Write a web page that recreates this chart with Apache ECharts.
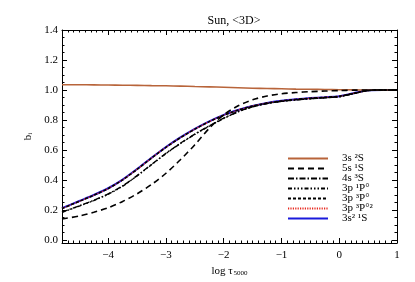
<!DOCTYPE html>
<html><head><meta charset="utf-8">
<script src="https://cdn.jsdelivr.net/npm/echarts@6/dist/echarts.min.js"></script>
<style>html,body{margin:0;padding:0;background:#fff}#c{width:415px;height:282px}</style>
</head><body><div id="c"></div>
<script>
// log tau_5000 sample points
var logTau = [-4.8,-4.5,-4.25,-4,-3.75,-3.5,-3.25,-3,-2.75,-2.5,-2.25,-2,-1.75,-1.5,-1.25,-1,-0.75,-0.5,-0.25,0,0.25,0.5,0.75,1];
// departure coefficients b_i
var b3s2S   = [1.035,1.035,1.034,1.033,1.032,1.031,1.029,1.028,1.026,1.023,1.021,1.018,1.015,1.012,1.010,1.008,1.006,1.005,1.003,1.002,1.001,1.0,1.0,1.0];
var b5s1S   = [0.14,0.16,0.185,0.215,0.257,0.308,0.37,0.445,0.535,0.635,0.745,0.835,0.895,0.935,0.96,0.975,0.983,0.989,0.993,0.996,0.999,1.0,1.0,1.0];
var b4s3S   = [0.186,0.228,0.265,0.307,0.361,0.429,0.504,0.578,0.645,0.706,0.761,0.812,0.856,0.888,0.91,0.924,0.934,0.942,0.948,0.955,0.976,0.997,1.0,1.0];
var b3p1P   = [0.184,0.226,0.263,0.305,0.359,0.427,0.502,0.576,0.643,0.704,0.759,0.810,0.855,0.888,0.91,0.924,0.934,0.942,0.948,0.955,0.976,0.997,1.0,1.0];
var b3p3P   = [0.21,0.258,0.298,0.343,0.401,0.471,0.546,0.618,0.682,0.739,0.789,0.832,0.866,0.893,0.913,0.927,0.937,0.945,0.951,0.958,0.978,0.997,1.0,1.0];
var b3p3P2  = [0.21,0.258,0.298,0.343,0.401,0.471,0.546,0.618,0.682,0.739,0.789,0.832,0.866,0.893,0.913,0.927,0.937,0.945,0.951,0.958,0.978,0.997,1.0,1.0];
var b3s21S  = [0.212,0.26,0.30,0.345,0.403,0.473,0.548,0.62,0.684,0.741,0.791,0.834,0.867,0.894,0.914,0.928,0.938,0.946,0.952,0.959,0.979,0.998,1.0,1.0];
var names = ['3s \u00b2S','5s \u00b9S','4s \u00b3S','3p \u00b9P\u00b0','3p \u00b3P\u00b0','3p \u00b3P\u00b0\u00b2','3s\u00b2 \u00b9S'];
var titleText = 'Sun, <3D>';

function pairs(ys){ return logTau.map(function(x,i){ return [x, ys[i]]; }); }
var F = 'Liberation Serif, Times New Roman, serif';
var chart = echarts.init(document.getElementById('c'), null, {renderer:'canvas'});

function axisCommon(extra){
  var a = {
    axisLine:{show:true, onZero:false, lineStyle:{color:'#000', width:1}},
    axisTick:{show:true, inside:true, length:5, lineStyle:{color:'#000', width:1}},
    splitLine:{show:false}
  };
  for (var k in extra) a[k] = extra[k];
  return a;
}
var xLab = {fontFamily:F, fontSize:11, color:'#000', margin:7, showMinLabel:false,
  formatter:function(v){ return String(v).replace('-', '\u2212'); }};
var yLab = {fontFamily:F, fontSize:11, color:'#000', margin:4, showMinLabel:false,
  formatter:function(v){ return v.toFixed(1); }};

function ser(name, data, color, type, width, z){
  return {name:name, type:'line', data:pairs(data), smooth:0.25, symbol:'none', showSymbol:false,
    z:z, lineStyle:{color:color, type:type, width:width}, itemStyle:{color:color}};
}

chart.setOption({
  animation:false,
  title:{text:titleText, left:229, top:10, textAlign:'center',
    textStyle:{fontFamily:F, fontSize:12, fontWeight:'normal', color:'#000'}},
  grid:{left:62, right:18, top:30, bottom:39, containLabel:false},
  xAxis:[
    axisCommon({type:'value', position:'bottom', min:-4.8, max:1, splitNumber:5,
      minorTick:{show:true, splitNumber:10, length:2.5, lineStyle:{color:'#000'}},
      axisLabel:xLab,
      name:'log \u03c4{s|5000}', nameLocation:'middle', nameGap:20,
      nameTextStyle:{fontFamily:F, fontSize:11, color:'#000',
        rich:{s:{fontFamily:F, fontSize:7, verticalAlign:'bottom', lineHeight:7, padding:[0,0,0,1]}}}}),
    axisCommon({type:'value', position:'top', min:-4.8, max:1, splitNumber:5,
      minorTick:{show:true, splitNumber:10, length:2.5, lineStyle:{color:'#000'}},
      axisLabel:{show:false}})
  ],
  yAxis:[
    axisCommon({type:'value', position:'left', min:-0.02, max:1.4, splitNumber:7,
      minorTick:{show:true, splitNumber:4, length:2.5, lineStyle:{color:'#000'}},
      axisLabel:yLab,
      name:'b{s|i}', nameLocation:'middle', nameGap:22,
      nameTextStyle:{fontFamily:F, fontSize:11, color:'#000',
        rich:{s:{fontFamily:F, fontSize:7, verticalAlign:'bottom', lineHeight:7}}}}),
    axisCommon({type:'value', position:'right', min:-0.02, max:1.4, splitNumber:7,
      minorTick:{show:true, splitNumber:4, length:2.5, lineStyle:{color:'#000'}},
      axisLabel:{show:false}})
  ],
  legend:{orient:'vertical', left:282, top:148, itemWidth:40, itemHeight:9, itemGap:-1,
    data:names, itemStyle:{opacity:0},
    textStyle:{fontFamily:F, fontSize:11, lineHeight:10.3, color:'#000', padding:[0,0,0,9]}},
  series:[
    ser(names[0], b3s2S, '#b8643a', 'solid', 1.6, 5),
    ser(names[1], b5s1S, '#000', [6,4], 1.6, 5),
    ser(names[2], b4s3S, '#000', [6,2,1.5,2], 1.4, 5),
    ser(names[3], b3p1P, '#000', [4,2,1.5,2,1.5,2,1.5,2], 1.4, 5),
    ser(names[4], b3p3P, '#000', [3,2], 1.6, 6),
    ser(names[5], b3p3P2, '#e8281e', [1.2,1.2], 1.4, 4),
    ser(names[6], b3s21S, '#1a1adc', 'solid', 2, 3)
  ]
});
</script></body></html>
